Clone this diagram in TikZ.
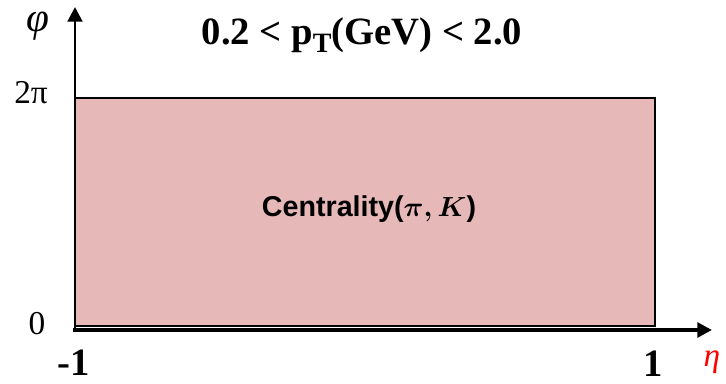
\documentclass[tikz,border=0pt]{standalone}
\usepackage{amsmath}
\usepackage{fontspec}
\setmainfont{Liberation Serif}
\setsansfont{Liberation Sans}
\usetikzlibrary{arrows.meta}
\definecolor{regionpink}{RGB}{230,184,183}

\begin{document}
\begin{tikzpicture}[x=0.75pt, y=-0.75pt,
  axis/.style={-{Triangle[length=11pt, width=11pt]}},
  ticklab/.style={font=\fontsize{25}{28}\selectfont},
  endlab/.style={font=\fontsize{29}{32}\selectfont\bfseries, anchor=base}]
  \useasboundingbox (0,0) rectangle (726,384);
  \coordinate (O) at (73,330);
  \coordinate (Ybot) at (75,332);
  \coordinate (Ytop) at (75,7);
  \coordinate (Xend) at (712,330);
  % region in (eta, phi)
  \coordinate (R1) at (75,98);
  \coordinate (R2) at (655,326);

  \fill[regionpink] (R1) rectangle (R2);
  \draw[line width=1.8pt] (R1) rectangle (R2);
  \draw[axis, line width=2.8pt] (O) -- (Xend);
  \draw[axis, line width=2.2pt] (Ybot) -- (Ytop);

  \node[ticklab, font=\fontsize{31}{34}\selectfont] (phi) at (38,26) {\itshape φ};
  \node[ticklab] (twopi) at (31,93) {2π};
  \node[ticklab] (zero) at (37,324) {0};
  \node[endlab] (mone) at (74,376) {-1};
  \node[endlab] (one) at (653,377) {1};
  \node[ticklab, text=red] (eta) at (712,362) {\itshape η};
  \node[font=\fontsize{29}{32}\selectfont\bfseries, anchor=base] (title) at (362,45)
    {0.2 < p\raisebox{-6pt}{\fontsize{21}{21}\selectfont T}(GeV) < 2.0};
  \node[font=\fontsize{21.5}{24}\selectfont\sffamily\bfseries, anchor=base] (cent) at (369,217)
    {Centrality($\boldsymbol{\pi, K}$)};
\end{tikzpicture}
\end{document}
